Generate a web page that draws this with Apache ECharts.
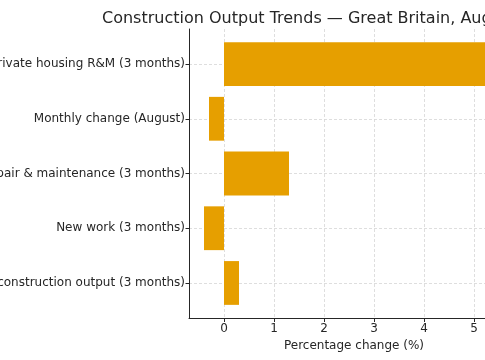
<!DOCTYPE html>
<html><head><meta charset="utf-8">
<script src="https://cdn.jsdelivr.net/npm/echarts@6/dist/echarts.min.js"></script>
<style>html,body{margin:0;padding:0;overflow:hidden;width:485px;height:360px;background:#fff}#c{width:560px;height:360px}</style>
</head><body><div id="c"></div>
<script>
const titleText = "Construction Output Trends — Great Britain, August 2025";
const categories = ["Total construction output (3 months)", "New work (3 months)", "Repair & maintenance (3 months)", "Monthly change (August)", "Private housing R&M (3 months)"];
const values = [0.3, -0.4, 1.3, -0.3, 5.6];
const xTicks = [0, 1, 2, 3, 4, 5];
const xLabel = "Percentage change (%)";

const color = '#E69F00';
const txt = '#262626';
const chart = echarts.init(document.getElementById('c'), null, {renderer: 'canvas'});
chart.setOption({
  animation: false,
  textStyle: {fontFamily: 'DejaVu Sans'},
  title: {text: titleText, left: 97, top: 6, textStyle: {fontFamily: 'DejaVu Sans', fontSize: 16, fontWeight: 'normal', color: txt}},
  grid: {left: 189, right: 41, top: 29, bottom: 42, containLabel: false, outerBoundsMode: 'none'},
  xAxis: {
    type: 'value', min: -0.7, max: 5.9,
    axisLine: {show: true, onZero: false, lineStyle: {color: txt, width: 1}},
    axisTick: {show: true, length: 4, lineStyle: {color: txt}, customValues: xTicks},
    axisLabel: {customValues: xTicks, color: txt, fontSize: 12, margin: 5, fontFamily: 'DejaVu Sans'},
    splitLine: {show: true, lineStyle: {color: '#d6d6d6', type: [3, 2], width: 0.8}},
    name: xLabel, nameLocation: 'middle', nameGap: 18,
    nameTextStyle: {color: txt, fontSize: 12, fontFamily: 'DejaVu Sans'}
  },
  yAxis: {
    type: 'value', min: -0.64, max: 4.64,
    axisLine: {show: true, onZero: false, lineStyle: {color: txt, width: 1}},
    axisTick: {show: true, length: 3.5, lineStyle: {color: txt}, customValues: [0,1,2,3,4]},
    axisLabel: {customValues: [0,1,2,3,4], color: txt, fontSize: 12, margin: 4, fontFamily: 'DejaVu Sans',
      formatter: v => categories[Math.round(v)] || ''},
    splitLine: {show: true, lineStyle: {color: '#d6d6d6', type: [3, 2], width: 0.8}}
  },
  series: [{
    type: 'custom',
    clip: true,
    encode: {x: 0, y: 1},
    data: values.map((v, i) => [v, i]),
    renderItem: function (params, api) {
      const v = api.value(0), i = api.value(1);
      const a = api.coord([0, i + 0.4]);
      const b = api.coord([v, i - 0.4]);
      return {type: 'rect', shape: {x: Math.min(a[0], b[0]), y: a[1], width: Math.abs(b[0] - a[0]), height: b[1] - a[1]}, style: {fill: color}};
    }
  }]
});
</script></body></html>
